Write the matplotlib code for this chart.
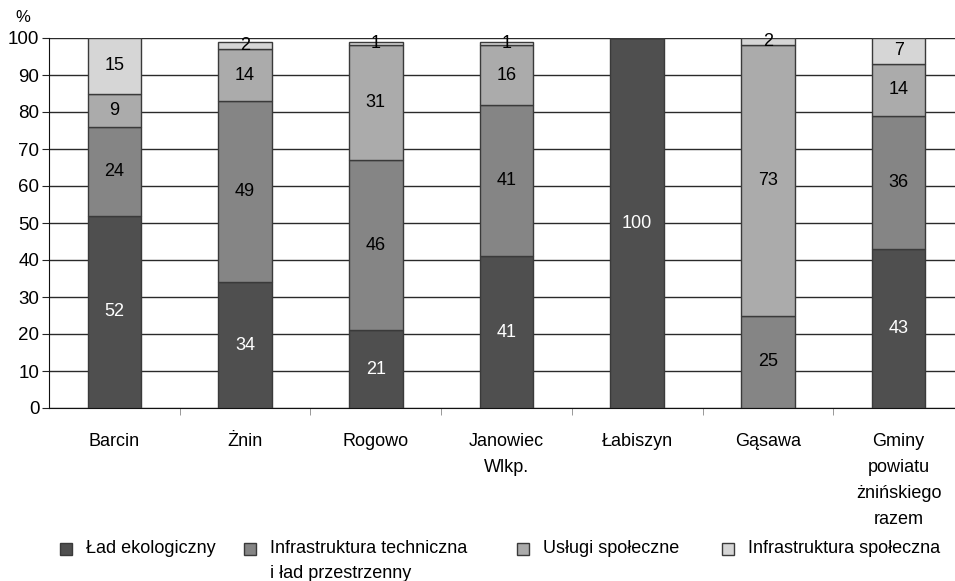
import matplotlib.pyplot as plt
from matplotlib.patches import Rectangle
from matplotlib.ticker import FixedLocator
import numpy as np

plt.rcParams['font.family'] = ['Liberation Sans', 'DejaVu Sans']

gminy = ['Barcin', 'Żnin', 'Rogowo', 'Janowiec\nWlkp.', 'Łabiszyn', 'Gąsawa',
         'Gminy\npowiatu\nżnińskiego\nrazem']
lad_ekologiczny = [52, 34, 21, 41, 100, 0, 43]
infra_techniczna = [24, 49, 46, 41, 0, 25, 36]
uslugi_spoleczne = [9, 14, 31, 16, 0, 73, 14]
infra_spoleczna = [15, 2, 1, 1, 0, 2, 7]

serie = [
    ('Ład ekologiczny', lad_ekologiczny, '#4f4f4f', 'white'),
    ('Infrastruktura techniczna\ni ład przestrzenny', infra_techniczna, '#858585', 'black'),
    ('Usługi społeczne', uslugi_spoleczne, '#ababab', 'black'),
    ('Infrastruktura społeczna', infra_spoleczna, '#d6d6d6', 'black'),
]

fig = plt.figure(figsize=(9.55, 5.81), dpi=100)
ax = fig.add_axes([49 / 955, 173 / 581, 915 / 955, 370 / 581])

x = np.arange(len(gminy))
bottom = np.zeros(len(gminy))
for name, vals, color, tcolor in serie:
    vals = np.array(vals, dtype=float)
    ax.bar(x, vals, 0.41, bottom=bottom, color=color, edgecolor='#3a3a3a',
           linewidth=1, label=name, zorder=3)
    for xi, b, v in zip(x, bottom, vals):
        if v > 0:
            ax.text(xi, b + v / 2, f'{int(v)}', ha='center', va='center',
                    fontsize=13, color=tcolor, zorder=4)
    bottom += vals

ax.set_xlim(-0.5, len(gminy) - 0.5)
ax.set_ylim(0, 100)
ax.set_yticks(range(0, 101, 10))
ax.yaxis.grid(True, color='#2a2a2a', linewidth=1)
ax.set_axisbelow(True)
ax.set_xticks(x)
ax.set_xticklabels(gminy, fontsize=13, linespacing=1.7)
ax.tick_params(axis='x', length=0, pad=18)
ax.xaxis.set_minor_locator(FixedLocator(np.arange(0.5, len(gminy) - 0.5, 1)))
ax.tick_params(axis='x', which='minor', length=5, color='#888888', direction='out')
ax.tick_params(axis='y', length=5, labelsize=13.5, color='#222222', pad=2)
for s in ['top', 'right']:
    ax.spines[s].set_visible(False)
ax.spines['left'].set_color('#111111')
ax.spines['bottom'].set_color('#111111')

fig.text(15 / 955, 1 - 18 / 581, '%', fontsize=12, ha='left', va='center')

# legenda rysowana recznie: kwadrat + opis
leg_x = [60, 244, 517, 722]
for (name, _, color, _), lx in zip(serie, leg_x):
    fig.add_artist(Rectangle((lx / 955, 1 - 555 / 581), 12 / 955, 12 / 581,
                             transform=fig.transFigure, facecolor=color,
                             edgecolor='#3a3a3a', linewidth=1))
    fig.text((lx + 26) / 955, 1 - 540 / 581, name, fontsize=13, ha='left',
             va='top', linespacing=1.65, transform=fig.transFigure)

fig.savefig('out.png', dpi=100)
